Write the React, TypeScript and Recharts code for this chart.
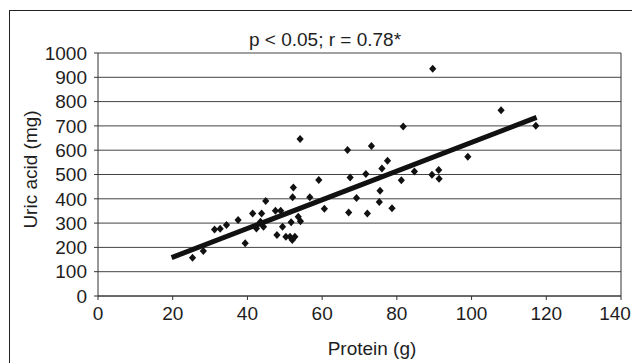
import React from "react";
import {
  ScatterChart,
  Scatter,
  XAxis,
  YAxis,
  CartesianGrid,
  ReferenceLine,
} from "recharts";

// protein intake (g) vs uric acid (mg)
const protein = [
  25.3, 28.2, 31.2, 32.7, 34.4, 37.5, 39.4, 41.4, 42.4, 43.5, 43.8, 44.3, 44.9,
  47.5, 48.9, 47.9, 49.4, 50.3, 51.4, 52.0, 52.7, 51.7, 52.1, 52.3, 53.6, 54.2,
  54.1, 56.7, 59.1, 60.6, 66.8, 67.5, 67.1, 69.2, 71.7, 72.1, 73.2, 75.3, 75.5,
  76.0, 77.5, 78.7, 81.2, 81.7, 84.7, 89.6, 89.4, 91.2, 91.3, 99.0, 107.9, 117.2,
];
const uricAcid = [
  157, 185, 274, 277, 292, 313, 217, 340, 278, 306, 340, 285, 391, 351, 351,
  251, 285, 244, 244, 230, 244, 303, 406, 447, 326, 308, 646, 406, 477, 359,
  601, 488, 344, 403, 502, 339, 617, 387, 433, 525, 557, 361, 476, 698, 512,
  935, 499, 519, 483, 573, 764, 701,
];

// trend line end points
const fitX = [19.7, 117.4];
const fitY = [158, 735];

const xTicks = [0, 20, 40, 60, 80, 100, 120, 140];
const yTicks = [0, 100, 200, 300, 400, 500, 600, 700, 800, 900, 1000];

const title = "p < 0.05; r = 0.78*";

const points = protein.map((x, i) => ({ x, y: uricAcid[i] }));
const fit = fitX.map((x, i) => ({ x, y: fitY[i] }));

const font = "'Liberation Sans', Arial, sans-serif";
const ink = "#1e1e1e";

const Diamond = (props: any) => {
  const { cx, cy } = props;
  return (
    <path
      d={`M${cx},${cy - 4}L${cx + 3.6},${cy}L${cx},${cy + 4}L${cx - 3.6},${cy}Z`}
      fill="#111"
    />
  );
};

const NoDot = () => <g />;

// last label sits against the frame edge, nudge it in a bit
const XTick = (props: any) => {
  const { x, y, payload } = props;
  const last = payload.value === xTicks[xTicks.length - 1];
  return (
    <text
      x={last ? x - 6 : x}
      y={y}
      dy="0.71em"
      textAnchor="middle"
      fill={ink}
      fontSize={19}
      fontFamily={font}
    >
      {payload.value}
    </text>
  );
};

export default function App() {
  return (
    <div
      style={{
        position: "fixed",
        left: 0,
        top: 0,
        width: 632,
        height: 363,
        overflow: "hidden",
        background: "#fff",
        fontFamily: font,
      }}
    >
      <div
        style={{
          position: "absolute",
          left: 9,
          top: 10,
          width: 700,
          height: 400,
          borderLeft: "1px solid #222",
          borderTop: "1px solid #222",
        }}
      />
      <div
        style={{
          position: "absolute",
          left: 0,
          top: 30,
          width: 650,
          textAlign: "center",
          fontSize: 19,
          lineHeight: "19px",
          color: ink,
        }}
      >
        {title}
      </div>
      <div style={{ position: "absolute", left: 0, top: 0 }}>
        <ScatterChart
          width={632}
          height={363}
          margin={{ top: 53, right: 11, bottom: 8, left: 38 }}
        >
          <CartesianGrid vertical={false} stroke="#444" strokeWidth={1} />
          <XAxis
            type="number"
            dataKey="x"
            domain={[0, 140]}
            ticks={xTicks}
            interval={0}
            height={59}
            tickSize={4}
            tickMargin={7}
            stroke="#333"
            tick={<XTick />}
            label={{
              content: () => (
                <text
                  x={372}
                  y={355}
                  textAnchor="middle"
                  fill={ink}
                  fontSize={19}
                  fontFamily={font}
                >
                  Protein (g)
                </text>
              ),
            }}
          />
          <YAxis
            type="number"
            dataKey="y"
            domain={[0, 1000]}
            ticks={yTicks}
            interval={0}
            width={60}
            tickSize={4}
            tickMargin={7}
            stroke="#333"
            tick={{ fill: ink, fontSize: 19, fontFamily: font }}
            label={{
              content: () => (
                <text
                  x={30}
                  y={169.5}
                  transform="rotate(-90 30 169.5)"
                  textAnchor="middle"
                  dominantBaseline="central"
                  fill={ink}
                  fontSize={19}
                  fontFamily={font}
                >
                  Uric acid (mg)
                </text>
              ),
            }}
          />
          <ReferenceLine x={140} stroke="#333" />
          <Scatter
            data={points}
            shape={Diamond}
            isAnimationActive={false}
          />
          <Scatter
            data={fit}
            shape={NoDot}
            line={{ stroke: "#111", strokeWidth: 5 }}
            isAnimationActive={false}
          />
        </ScatterChart>
      </div>
    </div>
  );
}
